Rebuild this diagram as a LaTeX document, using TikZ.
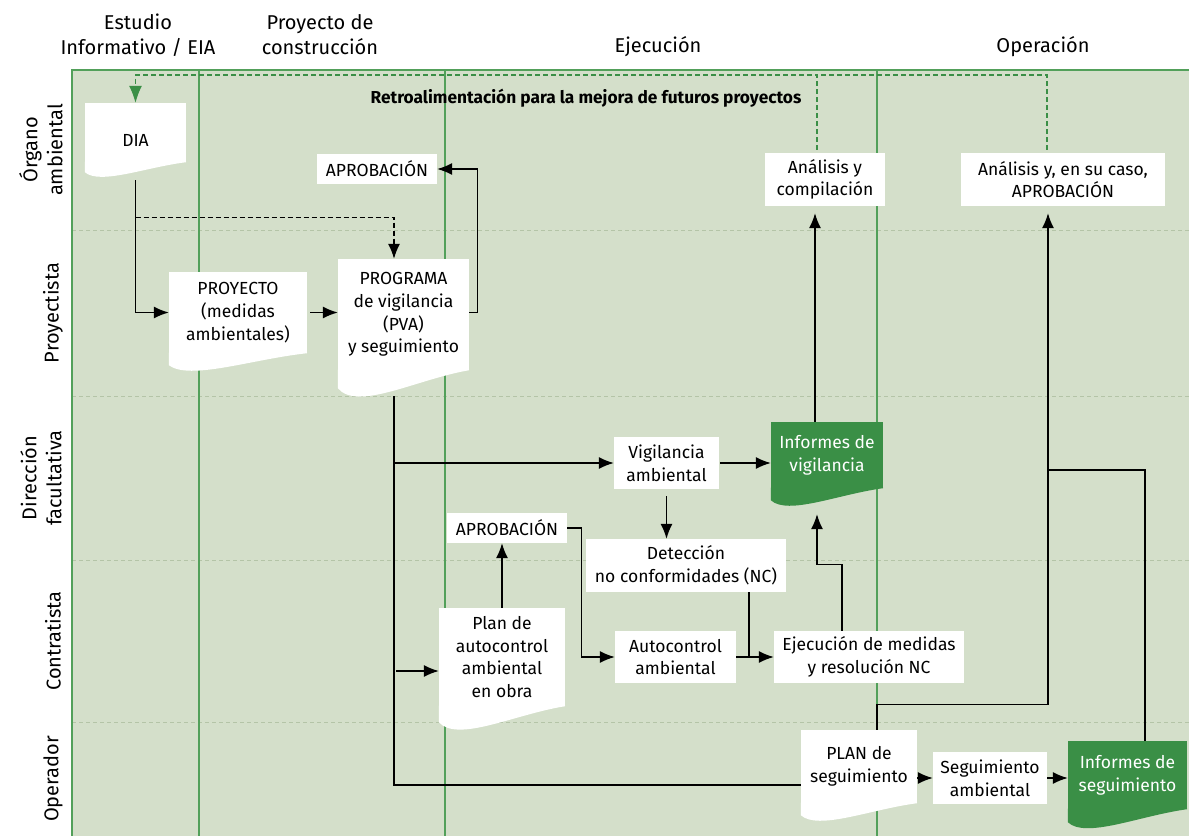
\documentclass[tikz,border=0pt]{standalone}
\usepackage{fontspec}
\setmainfont{Fira Sans}
\usepackage{tikz}
\usepackage{xcolor}
\usetikzlibrary{arrows.meta,calc}
\definecolor{lanebg}{HTML}{D4DFCA}
\definecolor{lanegreen}{HTML}{52A05A}
\definecolor{lanedash}{HTML}{B4C4A7}
\definecolor{docgreen}{HTML}{3A8F46}

\begin{document}
\begin{tikzpicture}[
  x=1pt, y=-1pt,
  >={Latex[length=15pt,width=12pt]},
  every node/.style={font=\fontsize{17.5}{22.7}\selectfont, align=center, inner sep=0pt},
  box/.style={fill=white, minimum height=52pt},
  doc/.style={fill=#1},
  report/.style={doc=docgreen, text=white},
  phase/.style={font=\fontsize{20}{25}\selectfont},
  lane/.style={font=\fontsize{20}{25}\selectfont, rotate=90},
  flow/.style={line width=1.3pt},
  feedback/.style={draw=docgreen, line width=1.2pt, dash pattern=on 5pt off 3pt, -{Latex[length=17pt,width=13pt]}}
]
\useasboundingbox (0,0) rectangle (1189,836);
\fill[lanebg] (72,70) rectangle (1189,836);
\foreach \y in {230,396,560,722}{\draw[lanedash, line width=0.8pt, dash pattern=on 4pt off 3pt] (72,\y) -- (1189,\y);}
\foreach \x in {199,445,877}{\draw[lanegreen, line width=1.3pt] (\x,70) -- (\x,836);}
\draw[lanegreen, line width=2.5pt] (1189,70) -- (72,70) -- (72,836);

\node[phase] (estudio) at (138,35) {Estudio\\Informativo / EIA};
\node[phase] (proyecto) at (320,35) {Proyecto de\\construcción};
\node[phase] (ejecucion) at (658,47) {Ejecución};
\node[phase] (operacion) at (1043,47) {Operación};
\node[lane] (organo) at (41,150) {Órgano\\ambiental};
\node[lane] (proyectista) at (53,313) {Proyectista};
\node[lane] (direccion) at (41,478) {Dirección\\facultativa};
\node[lane] (contratista) at (53,641) {Contratista};
\node[lane] (operador) at (53,779) {Operador};
\node[font=\fontsize{17.3}{20}\selectfont\bfseries] (retro) at (586,98) {Retroalimentación para la mejora de futuros proyectos};

\node[doc=white, minimum width=101pt, minimum height=59pt, text height=28pt] (dia) at (135.5,132.5) {DIA};
\node[box, minimum width=120pt, minimum height=30pt] (aprob) at (377,169) {APROBACIÓN};
\node[doc=white, minimum width=138pt, minimum height=81pt] (proy) at (238,312.5) {PROYECTO\\(medidas\\ambientales)};
\node[doc=white, minimum width=131pt, minimum height=111pt] (pva) at (403.5,314.5) {PROGRAMA\\de vigilancia\\(PVA)\\y seguimiento};
\node[box, minimum width=120pt, minimum height=53pt] (analisis) at (825,179.5) {Análisis y\\compilación};
\node[box, minimum width=204pt, minimum height=53pt] (aprobop) at (1063,179.5) {Análisis y, en su caso,\\APROBACIÓN};
\node[box, minimum width=105pt] (vigilancia) at (666.5,463) {Vigilancia\\ambiental};
\node[report, minimum width=112pt, minimum height=66pt] (infvig) at (827,455) {Informes de\\vigilancia};
\node[box, minimum width=120pt, minimum height=30pt] (aprobpa) at (507,528) {APROBACIÓN};
\node[box, minimum width=200pt, minimum height=53pt] (deteccion) at (686,565.5) {Detección\\no conformidades (NC)};
\node[doc=white, minimum width=126pt, minimum height=98pt] (planauto) at (502,657) {Plan de\\autocontrol\\ambiental\\en obra};
\node[box, minimum width=121pt] (autocontrol) at (675.5,657) {Autocontrol\\ambiental};
\node[box, minimum width=190pt] (ejecucionnc) at (869,657) {Ejecución de medidas\\y resolución NC};
\node[doc=white, minimum width=116pt, minimum height=73pt] (planseg) at (859,766.5) {PLAN de\\seguimiento};
\node[box, minimum width=114pt] (seguimiento) at (990,778) {Seguimiento\\ambiental};
\node[report, minimum width=119pt, minimum height=68pt] (infseg) at (1127.5,775) {Informes de\\seguimiento};

\foreach \n/\col/\dep in {dia/white/10, proy/white/12, pva/white/18, infvig/docgreen/12, planauto/white/16, planseg/white/12, infseg/docgreen/13}
  {\fill[\col] ($(\n.south west)+(0,-0.5)$) -- ($(\n.south east)+(0,-0.5)$) -- (\n.south east)
     .. controls ($(\n.south east)!0.4!(\n.south west)+(0,0.5*\dep)$) and ($(\n.south east)!0.85!(\n.south west)+(0,2.3*\dep)$) .. ($(\n.south west)+(0,\dep)$) -- cycle;}

\coordinate (fbtop) at (0,75);
\coordinate (trunk) at ([xshift=-9.5pt]pva.south);
\coordinate (pa) at ([yshift=-14pt]planauto.west);
\coordinate (nc) at ([xshift=63pt]deteccion.south);
\coordinate (a1) at ([xshift=-12pt]infvig.north);
\coordinate (a2) at ([xshift=18pt]planseg.north);
\coordinate (a3) at ([xshift=-15pt]aprobop.south);
\coordinate (a4) at ([xshift=17.5pt]infseg.north);
\coordinate (jn) at (0,470);

\draw[feedback] ([xshift=-8pt,yshift=3pt]analisis.north) |- (dia.north |- fbtop) -- (dia.north);
\draw[feedback, -] ([xshift=-16pt,yshift=3pt]aprobop.north) |- ([xshift=-8pt]analisis.north |- fbtop);
\draw[flow, ->] ([yshift=-18pt]dia.south) |- (proy.west);
\draw[flow, ->, dash pattern=on 5pt off 3pt] ($(dia.south)+(0,55)$) -| ([xshift=-9.5pt]pva.north);
\draw[flow, ->, shorten <=3pt] (proy.east) -- (proy.east -| pva.west);
\draw[flow, ->] (pva.east |- proy.east) -- ++(8,0) |- (aprob.east);
\draw[flow] ([yshift=-26pt]trunk) |- ([yshift=-18.5pt]planseg.west);
\draw[flow, ->] (trunk |- vigilancia.west) -- (vigilancia.west);
\draw[flow, ->, shorten <=2pt] (trunk |- pa) -- (pa);
\draw[flow, ->, shorten <=1pt] (vigilancia.east) -- (vigilancia.east -| infvig.west);
\draw[flow, ->, shorten <=7pt] (vigilancia.south) -- (vigilancia.south |- deteccion.north);
\draw[flow, ->] (planauto.north) -- (planauto.north |- aprobpa.south);
\draw[flow, ->] (aprobpa.east) -- ++(14,0) |- (autocontrol.west);
\draw[flow, ->] (autocontrol.east) -- (ejecucionnc.west);
\draw[flow] (nc) -- (nc |- autocontrol.east);
\draw[flow, ->] ([xshift=-27pt]ejecucionnc.north) -- ++(0,-66) -| ([xshift=-10pt,yshift=-26pt]infvig.south);
\draw[flow, ->, shorten >=7pt] (a1) -- (a1 |- analisis.south);
\draw[flow, ->, shorten >=7pt] (a2) -- ++(0,-25) -| (a3);
\draw[flow] (a4) |- (a3 |- jn);
\draw[flow, ->] (planseg.east |- seguimiento.west) -- (seguimiento.west);
\draw[flow, ->] (seguimiento.east) -- (seguimiento.east -| infseg.west);
\end{tikzpicture}
\end{document}
